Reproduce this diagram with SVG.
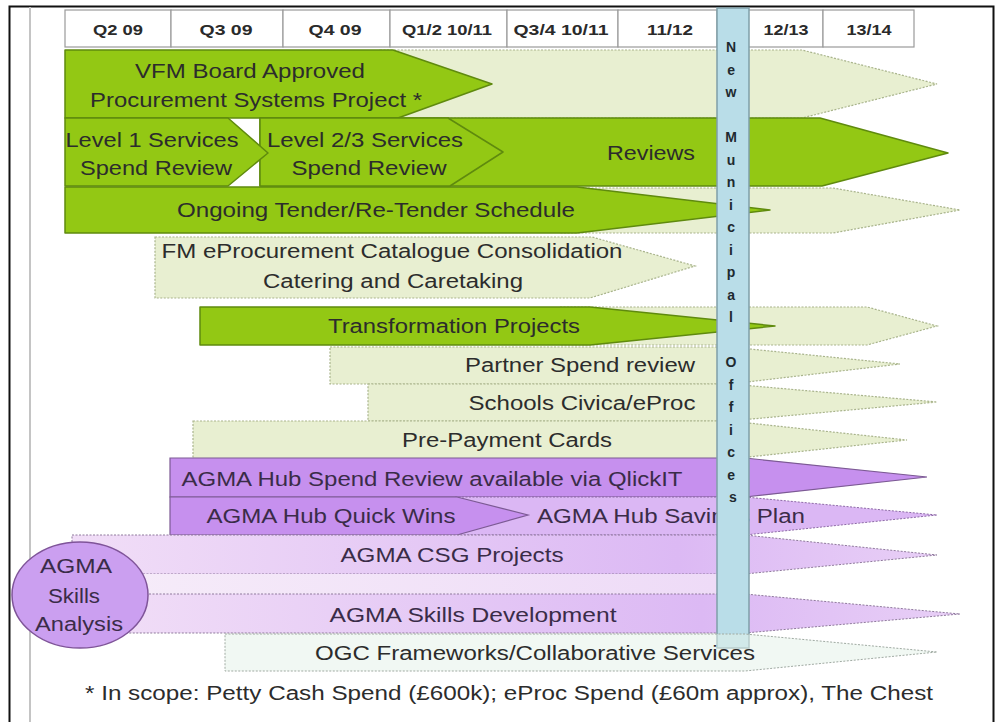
<svg xmlns="http://www.w3.org/2000/svg" width="1002" height="722" viewBox="0 0 1002 722">
  <defs>
    <style>
      .lbl { font-family: "Liberation Sans", Arial, sans-serif; font-size: 20px; fill: #2c2c2c; text-anchor: middle; }
      .plbl { font-family: "Liberation Sans", Arial, sans-serif; font-size: 20px; fill: #3a2c48; text-anchor: middle; }
      .hdr { font-family: "Liberation Sans", Arial, sans-serif; font-size: 14px; font-weight: bold; fill: #2a2a2a; text-anchor: middle; }
      .vt { font-family: "Liberation Sans", Arial, sans-serif; font-size: 14px; font-weight: bold; fill: #1e2a30; text-anchor: middle; }
      .cell { fill: #ffffff; stroke: #9a9a9a; stroke-width: 1.2; }
      .green { fill: #93c814; stroke: #5f8a0e; stroke-width: 1.5; stroke-linejoin: round; }
      .pale { fill: #e8efd1; stroke: #a9b48c; stroke-width: 1.2; stroke-dasharray: 2 1.5; }
      .hub { fill: #c690ee; stroke: #7c5a94; stroke-width: 1.2; }
      .save { fill: #dbb7f4; stroke: #8d6aa6; stroke-width: 1; stroke-dasharray: 2 1.5; }
      .csg { fill: url(#lilac); stroke: #8f7a9c; stroke-width: 1; stroke-dasharray: 2 1.5; }
      .ogc { fill: #e6f3ea; fill-opacity: 0.55; stroke: #a0aaa2; stroke-width: 1; stroke-dasharray: 2 1.5; }
    </style>
    <linearGradient id="lilac" x1="0" y1="0" x2="1" y2="0">
      <stop offset="0" stop-color="#f1def7"/>
      <stop offset="0.7" stop-color="#dcb9f4"/>
      <stop offset="1" stop-color="#e8cff6"/>
    </linearGradient>
    <linearGradient id="lilacGap" x1="0" y1="0" x2="1" y2="0">
      <stop offset="0" stop-color="#f6ecf9"/>
      <stop offset="1" stop-color="#eedbf7"/>
    </linearGradient>
  </defs>

  <!-- page frame -->
  <rect x="0" y="0" width="1002" height="722" fill="#ffffff"/>
  <path d="M9.5 730 V6.5 H993.5 V730" fill="none" stroke="#111111" stroke-width="2"/>
  <line x1="30" y1="7" x2="30" y2="722" stroke="#c4c4c4" stroke-width="2"/>

  <!-- timeline header -->
  <g id="header">
    <rect class="cell" x="65" y="10" width="106" height="37"/>
    <rect class="cell" x="171" y="10" width="112" height="37"/>
    <rect class="cell" x="283" y="10" width="107" height="37"/>
    <rect class="cell" x="390" y="10" width="117" height="37"/>
    <rect class="cell" x="507" y="10" width="111" height="37"/>
    <rect class="cell" x="618" y="10" width="99" height="37"/>
    <rect class="cell" x="748" y="10" width="75" height="37"/>
    <rect class="cell" x="823" y="10" width="91" height="37"/>
    <text class="hdr" x="118" y="35" textLength="50" lengthAdjust="spacingAndGlyphs">Q2 09</text>
    <text class="hdr" x="226" y="35" textLength="53" lengthAdjust="spacingAndGlyphs">Q3 09</text>
    <text class="hdr" x="335" y="35" textLength="53" lengthAdjust="spacingAndGlyphs">Q4 09</text>
    <text class="hdr" x="447" y="35" textLength="90" lengthAdjust="spacingAndGlyphs">Q1/2 10/11</text>
    <text class="hdr" x="561" y="35" textLength="95" lengthAdjust="spacingAndGlyphs">Q3/4 10/11</text>
    <text class="hdr" x="670" y="35" textLength="46" lengthAdjust="spacingAndGlyphs">11/12</text>
    <text class="hdr" x="786" y="35" textLength="45" lengthAdjust="spacingAndGlyphs">12/13</text>
    <text class="hdr" x="869" y="35" textLength="45" lengthAdjust="spacingAndGlyphs">13/14</text>
  </g>

  <!-- VFM board project with its extension -->
  <g id="vfm-board">
    <polygon class="pale" points="380,50 802,50 937,84 802,118 380,118"/>
    <polygon class="green" points="65,50 393,50 492,84 398,118 65,118"/>
    <text class="lbl" x="250" y="78" font-size="21" textLength="230" lengthAdjust="spacingAndGlyphs">VFM Board Approved</text>
    <text class="lbl" x="256" y="107" font-size="21" textLength="332" lengthAdjust="spacingAndGlyphs">Procurement Systems Project *</text>
  </g>

  <!-- spend reviews -->
  <g id="reviews">
    <polygon class="green" points="260,118 820,118 948,153 822,186 260,186"/>
    <text class="lbl" x="651" y="160" font-size="21" textLength="88" lengthAdjust="spacingAndGlyphs">Reviews</text>
  </g>
  <g id="level-2-3">
    <polygon class="green" points="260,118 448,118 503,152 450,186 260,186"/>
    <text class="lbl" x="365" y="147" font-size="21" textLength="196" lengthAdjust="spacingAndGlyphs">Level 2/3 Services</text>
    <text class="lbl" x="369" y="175" font-size="21" textLength="155" lengthAdjust="spacingAndGlyphs">Spend Review</text>
  </g>
  <g id="level-1">
    <polygon class="green" points="65,118 228,118 268,153 228,186 65,186"/>
    <text class="lbl" x="152" y="147" font-size="21" textLength="173" lengthAdjust="spacingAndGlyphs">Level 1 Services</text>
    <text class="lbl" x="156" y="175" font-size="21" textLength="152" lengthAdjust="spacingAndGlyphs">Spend Review</text>
  </g>

  <!-- tender schedule -->
  <g id="tender-schedule">
    <polygon class="pale" points="560,188 833,188 960,210 833,233 560,233"/>
    <polygon class="green" points="65,187 577,187 770,210 577,233 65,233"/>
    <text class="lbl" x="376" y="217" font-size="21" textLength="398" lengthAdjust="spacingAndGlyphs">Ongoing Tender/Re-Tender Schedule</text>
  </g>

  <!-- catalogue consolidation -->
  <g id="fm-catalogue">
    <polygon class="pale" points="155,237 592,237 695,266 590,298 155,298"/>
    <text class="lbl" x="392" y="258" textLength="461" lengthAdjust="spacingAndGlyphs">FM eProcurement Catalogue Consolidation</text>
    <text class="lbl" x="393" y="288" textLength="260" lengthAdjust="spacingAndGlyphs">Catering and Caretaking</text>
  </g>

  <!-- transformation projects -->
  <g id="transformation">
    <polygon class="pale" points="560,307 867,307 937,326 867,345 560,345"/>
    <polygon class="green" points="200,307 590,307 775,326 590,345 200,345"/>
    <text class="lbl" x="454" y="333" textLength="252" lengthAdjust="spacingAndGlyphs">Transformation Projects</text>
  </g>

  <g id="partner-spend">
    <polygon class="pale" points="330,347 730,347 900,364 730,384 330,384"/>
    <text class="lbl" x="580" y="372" textLength="230" lengthAdjust="spacingAndGlyphs">Partner Spend review</text>
  </g>

  <g id="schools">
    <polygon class="pale" points="368,384 730,384 937,402 730,421 368,421"/>
    <text class="lbl" x="582" y="410" textLength="227" lengthAdjust="spacingAndGlyphs">Schools Civica/eProc</text>
  </g>

  <g id="pre-payment">
    <polygon class="pale" points="193,421 730,421 907,440 730,459 193,459"/>
    <text class="lbl" x="507" y="447" textLength="210" lengthAdjust="spacingAndGlyphs">Pre-Payment Cards</text>
  </g>

  <!-- AGMA hub -->
  <g id="hub-spend-review">
    <polygon class="hub" points="170,458 745,458 927,477 745,497 170,497"/>
    <text class="plbl" x="432" y="486" textLength="501" lengthAdjust="spacingAndGlyphs">AGMA Hub Spend Review available via QlickIT</text>
  </g>

  <g id="hub-savings-plan">
    <polygon class="save" points="455,497 745,497 937,515 745,535 455,535"/>
    <text class="plbl" x="671" y="523" textLength="268" lengthAdjust="spacingAndGlyphs">AGMA Hub Savings Plan</text>
  </g>

  <g id="hub-quick-wins">
    <polygon class="hub" points="170,497 457,497 528,515 457,535 170,535"/>
    <text class="plbl" x="331" y="523" textLength="249" lengthAdjust="spacingAndGlyphs">AGMA Hub Quick Wins</text>
  </g>

  <g id="csg-projects">
    <polygon class="csg" points="72,535 745,535 937,555 745,574 72,574"/>
    <text class="plbl" x="452" y="562" textLength="223" lengthAdjust="spacingAndGlyphs">AGMA CSG Projects</text>
  </g>

  <rect x="100" y="574" width="617" height="20" fill="url(#lilacGap)"/>

  <g id="skills-development">
    <polygon class="csg" points="100,594 745,594 960,614 745,633 100,633"/>
    <text class="plbl" x="473" y="622" textLength="287" lengthAdjust="spacingAndGlyphs">AGMA Skills Development</text>
  </g>

  <g id="skills-analysis">
    <ellipse cx="80" cy="595" rx="68" ry="53" fill="#cb9ff0" stroke="#7f5499" stroke-width="1.5"/>
    <text class="plbl" x="76" y="573" textLength="72" lengthAdjust="spacingAndGlyphs">AGMA</text>
    <text class="plbl" x="74" y="603" textLength="52" lengthAdjust="spacingAndGlyphs">Skills</text>
    <text class="plbl" x="79" y="631" textLength="88" lengthAdjust="spacingAndGlyphs">Analysis</text>
  </g>

  <!-- new municipal offices milestone -->
  <g id="new-municipal-offices">
    <rect x="717" y="8" width="32" height="640" fill="#b9dde8" stroke="#7f9ea8" stroke-width="1.5"/>
    <text class="vt">
      <tspan x="733" y="52">N</tspan>
      <tspan x="733" y="74.5">e</tspan>
      <tspan x="733" y="97">w</tspan>
      <tspan x="733" y="142">M</tspan>
      <tspan x="733" y="164.5">u</tspan>
      <tspan x="733" y="187">n</tspan>
      <tspan x="733" y="209.5">i</tspan>
      <tspan x="733" y="232">c</tspan>
      <tspan x="733" y="254.5">i</tspan>
      <tspan x="733" y="277">p</tspan>
      <tspan x="733" y="299.5">a</tspan>
      <tspan x="733" y="322">l</tspan>
      <tspan x="733" y="367">O</tspan>
      <tspan x="733" y="389.5">f</tspan>
      <tspan x="733" y="412">f</tspan>
      <tspan x="733" y="434.5">i</tspan>
      <tspan x="733" y="457">c</tspan>
      <tspan x="733" y="479.5">e</tspan>
      <tspan x="733" y="502">s</tspan>
    </text>
  </g>

  <!-- collaborative services sits over the milestone bar -->
  <g id="ogc-frameworks">
    <polygon class="ogc" points="225,634 745,634 937,652 745,671 225,671"/>
    <text class="lbl" x="535" y="660" textLength="440" lengthAdjust="spacingAndGlyphs">OGC Frameworks/Collaborative Services</text>
  </g>

  <!-- footnote -->
  <text class="lbl" x="509" y="700" font-size="21" textLength="848" lengthAdjust="spacingAndGlyphs">* In scope: Petty Cash Spend (£600k); eProc Spend (£60m approx), The Chest</text>
</svg>
